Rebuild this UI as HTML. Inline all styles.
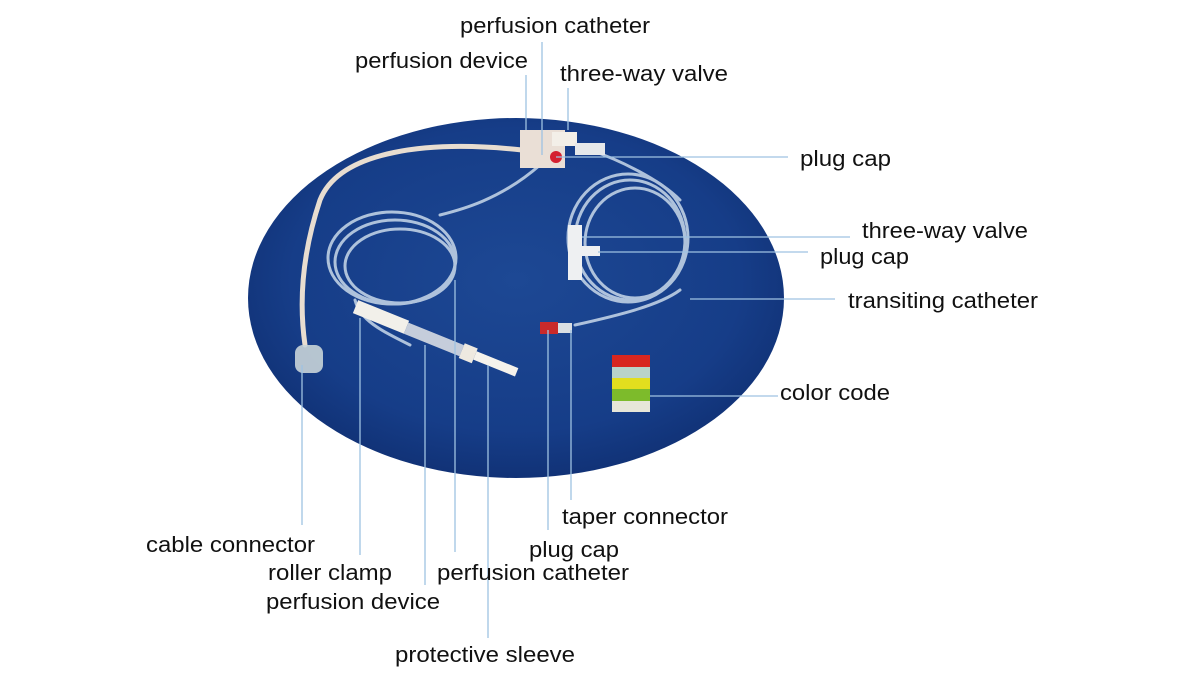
<!DOCTYPE html>
<html><head><meta charset="utf-8"><style>
html,body{margin:0;padding:0;background:#fff;}
svg{display:block}
text{font-family:"Liberation Sans",Arial,sans-serif;font-size:22px;fill:#111;}
</style></head><body>
<svg width="1200" height="676" viewBox="0 0 1200 676" xmlns="http://www.w3.org/2000/svg">
<defs>
<radialGradient id="bg" cx="0.5" cy="0.45" r="0.6">
<stop offset="0" stop-color="#1d4894"/><stop offset="0.7" stop-color="#163d88"/><stop offset="1" stop-color="#0f2e70"/>
</radialGradient>
</defs>
<ellipse cx="516" cy="298" rx="268" ry="180" fill="url(#bg)"/>
<g fill="none" stroke-linecap="round">
<path d="M522 150 C430 140 340 150 320 200 C300 260 300 310 305 345" stroke="#e8ddd0" stroke-width="5"/>
<g stroke="#c9d9ea" stroke-width="3" opacity="0.85">
<ellipse cx="395" cy="262" rx="60" ry="42"/>
<ellipse cx="400" cy="266" rx="55" ry="37"/>
<ellipse cx="392" cy="258" rx="64" ry="46"/>
<path d="M540 165 C500 200 460 210 440 215"/>
<path d="M355 300 C360 320 380 330 410 345"/>
</g>
<g stroke="#c9d9ea" stroke-width="3" opacity="0.85">
<ellipse cx="630" cy="240" rx="55" ry="60"/>
<ellipse cx="635" cy="243" rx="50" ry="55"/>
<ellipse cx="628" cy="238" rx="60" ry="64"/>
<path d="M590 150 C620 160 660 180 680 200"/>
<path d="M575 325 C620 315 660 305 680 290"/>
</g>
</g>
<rect x="295" y="345" width="28" height="28" rx="8" fill="#c8d4d8" opacity="0.9"/>
<g transform="rotate(22 400 330)">
<rect x="350" y="318" width="55" height="14" fill="#f2f0ea"/>
<rect x="405" y="320" width="60" height="12" fill="#d8dde3" opacity="0.9"/>
<rect x="465" y="318" width="14" height="16" fill="#eee9e0"/>
<rect x="479" y="321" width="45" height="9" fill="#f5f2ec"/>
</g>
<rect x="520" y="130" width="45" height="38" fill="#eadfd6"/>
<rect x="552" y="132" width="25" height="14" fill="#f3efe8"/>
<rect x="575" y="143" width="30" height="12" fill="#e6e8ea"/>
<circle cx="556" cy="157" r="6" fill="#d42030"/>
<rect x="568" y="225" width="14" height="55" fill="#eef0f2"/>
<rect x="572" y="246" width="28" height="10" fill="#eef0f2"/>
<rect x="540" y="322" width="18" height="12" fill="#c92a2a"/>
<rect x="558" y="323" width="14" height="10" fill="#dadfe3"/>
<rect x="612" y="355" width="38" height="12" fill="#d8261f"/>
<rect x="612" y="367" width="38" height="11" fill="#b9d3c9"/>
<rect x="612" y="378" width="38" height="11" fill="#e2de1e"/>
<rect x="612" y="389" width="38" height="12" fill="#7dbb2b"/>
<rect x="612" y="401" width="38" height="11" fill="#e7e6d8"/>
<g stroke="#9fc2e2" stroke-width="1.3" fill="none">
<path d="M302 365V525M360 318V555M425 345V585M455 280V552M488 365V638M548 330V530M571 330V500"/>
<path d="M526 75V130M542 42V155M568 88V130M556 157H788"/>
<path d="M582 237H850M598 252H808M690 299H835M650 396H778"/>
</g>
<text x="460" y="33" textLength="190" lengthAdjust="spacingAndGlyphs">perfusion catheter</text>
<text x="355" y="68" textLength="173" lengthAdjust="spacingAndGlyphs">perfusion device</text>
<text x="560" y="81" textLength="168" lengthAdjust="spacingAndGlyphs">three-way valve</text>
<text x="800" y="166" textLength="91" lengthAdjust="spacingAndGlyphs">plug cap</text>
<text x="862" y="238" textLength="166" lengthAdjust="spacingAndGlyphs">three-way valve</text>
<text x="820" y="264" textLength="89" lengthAdjust="spacingAndGlyphs">plug cap</text>
<text x="848" y="308" textLength="190" lengthAdjust="spacingAndGlyphs">transiting catheter</text>
<text x="780" y="400" textLength="110" lengthAdjust="spacingAndGlyphs">color code</text>
<text x="562" y="524" textLength="166" lengthAdjust="spacingAndGlyphs">taper connector</text>
<text x="529" y="557" textLength="90" lengthAdjust="spacingAndGlyphs">plug cap</text>
<text x="437" y="580" textLength="192" lengthAdjust="spacingAndGlyphs">perfusion catheter</text>
<text x="268" y="580" textLength="124" lengthAdjust="spacingAndGlyphs">roller clamp</text>
<text x="266" y="609" textLength="174" lengthAdjust="spacingAndGlyphs">perfusion device</text>
<text x="146" y="552" textLength="169" lengthAdjust="spacingAndGlyphs">cable connector</text>
<text x="395" y="662" textLength="180" lengthAdjust="spacingAndGlyphs">protective sleeve</text>
</svg>
</body></html>
